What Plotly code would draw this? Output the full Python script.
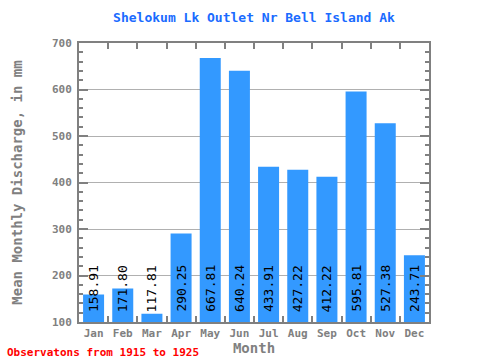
import plotly.graph_objects as go

months = ["Jan", "Feb", "Mar", "Apr", "May", "Jun", "Jul", "Aug", "Sep", "Oct", "Nov", "Dec"]
values = [158.91, 171.80, 117.81, 290.25, 667.81, 640.24, 433.91, 427.22, 412.22, 595.81, 527.38, 243.71]
y_ticks = [100, 200, 300, 400, 500, 600, 700]

FONT = "DejaVu Sans Mono"
GRAY = "#808080"

fig = go.Figure()
fig.add_trace(go.Bar(
    x=months, y=values, base=0,
    marker=dict(color="#3399ff", line=dict(width=0)),
    hoverinfo="x+y",
))

for m, v in zip(months, values):
    fig.add_annotation(
        x=m, y=100, yref="y", xref="x",
        text=f"{v:.2f}", textangle=-90, showarrow=False,
        xanchor="center", yanchor="bottom", yshift=8,
        font=dict(family=FONT, size=13, color="black"),
    )

fig.add_annotation(
    x=-74/350, y=-(352-322)/279, xref="paper", yref="paper",
    text="<b>Observatons from 1915 to 1925</b>",
    showarrow=False, xanchor="left", yanchor="middle",
    font=dict(family=FONT, size=11, color="red"),
)

fig.update_layout(
    width=480, height=360,
    margin=dict(l=79, r=51, t=43, b=38, autoexpand=False),
    paper_bgcolor="white", plot_bgcolor="white",
    bargap=0.28,
    showlegend=False,
    title=dict(text="<b>Shelokum Lk Outlet Nr Bell Island Ak</b>", x=254/480, xanchor="center",
               y=1-17/360, yanchor="middle",
               font=dict(family=FONT, size=13, color="#1a6bff")),
    xaxis=dict(
        title=dict(text="<b>Month</b>", font=dict(family=FONT, size=14, color=GRAY), standoff=0),
        tickfont=dict(family=FONT, size=11, color=GRAY), tickangle=0,
        ticktext=[f"<b>{m}</b>" for m in months], tickvals=months,
        showline=True, linecolor=GRAY, linewidth=2, mirror="ticks",
        ticks="inside", tickson="boundaries", ticklen=6, tickwidth=2, tickcolor=GRAY,
        showgrid=False, automargin=False,
        range=[-0.5, 11.5],
    ),
    yaxis=dict(
        title=dict(text="<b>Mean Monthly Discharge, in mm</b>", font=dict(family=FONT, size=14, color=GRAY), standoff=26),
        tickfont=dict(family=FONT, size=11, color=GRAY),
        tickvals=y_ticks, ticktext=[f"<b>{t}</b>" for t in y_ticks],
        ticklabelstandoff=3,
        range=[100, 700],
        showline=True, linecolor=GRAY, linewidth=2, mirror="ticks",
        ticks="inside", ticklen=9, tickwidth=2, tickcolor=GRAY,
        showgrid=True, gridcolor="#b0b0b0", gridwidth=1,
        minor=dict(dtick=20, ticks="inside", ticklen=4, tickwidth=2, tickcolor=GRAY, showgrid=False),
        zeroline=False, automargin=False,
    ),
)

fig.write_html("out.html", config={"displayModeBar": False},
               post_script="document.body.style.margin='0';document.body.style.overflow='hidden';")
